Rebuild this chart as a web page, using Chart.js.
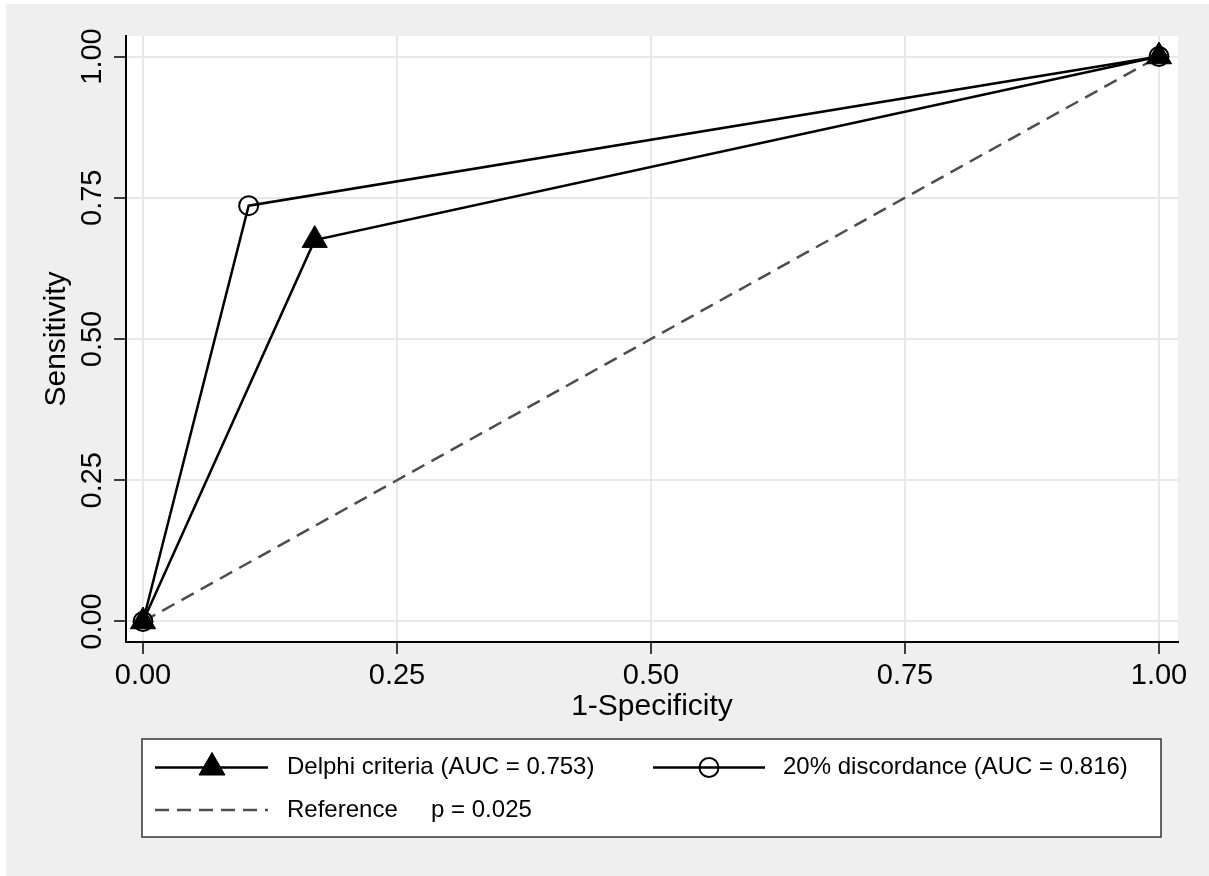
<!DOCTYPE html>
<html>
<head>
<meta charset="utf-8">
<title>ROC curves</title>
<script src="https://cdn.jsdelivr.net/npm/chart.js"></script>
<style>
  html, body { margin: 0; padding: 0; background: #fff; }
  #wrap { width: 1209px; height: 876px; }
</style>
</head>
<body>
<div id="wrap"><canvas id="rocChart" width="1209" height="876"></canvas></div>
<script>
// data
const delphiX = [0, 0.169, 1];
const delphiY = [0, 0.675, 1];
const discordX = [0, 0.104, 1];
const discordY = [0, 0.736, 1];
const refX = [0, 1];
const refY = [0, 1];

const tickValues = [0, 0.25, 0.5, 0.75, 1];
const tickLabels = ["0.00", "0.25", "0.50", "0.75", "1.00"];

const seriesNames = [
  "Delphi criteria (AUC = 0.753)",
  "20% discordance (AUC = 0.816)",
  "Reference     p = 0.025",
];

const FONT = "'Liberation Sans', Arial, sans-serif";

function toPoints(xs, ys) {
  return xs.map((x, i) => ({ x: x, y: ys[i] }));
}

function fixedTicks(scale) {
  scale.ticks = tickValues.map((v) => ({ value: v }));
}

function tickLabel(value) {
  const i = tickValues.indexOf(value);
  return i >= 0 ? tickLabels[i] : "";
}

// gray page, white plot region
const backgroundPlugin = {
  id: "stataBackground",
  beforeDraw(chart) {
    const ctx = chart.ctx;
    const a = chart.chartArea;
    ctx.save();
    ctx.fillStyle = "#ffffff";
    ctx.fillRect(0, 0, chart.width, chart.height);
    ctx.fillStyle = "#efefef";
    ctx.fillRect(6, 4, chart.width - 6, chart.height - 4);
    ctx.fillStyle = "#ffffff";
    ctx.fillRect(a.left, a.top, a.right - a.left, a.bottom - a.top);
    ctx.restore();
  },
};

// vertical y tick labels, like stata
const yLabelsPlugin = {
  id: "yLabels",
  afterDraw(chart) {
    const ctx = chart.ctx;
    const s = chart.scales.y;
    ctx.save();
    ctx.fillStyle = "#000";
    ctx.font = "29px " + FONT;
    ctx.textAlign = "center";
    ctx.textBaseline = "alphabetic";
    s.ticks.forEach((t) => {
      const y = s.getPixelForValue(t.value);
      ctx.save();
      ctx.translate(101, y);
      ctx.rotate(-Math.PI / 2);
      ctx.fillText(tickLabel(t.value), 0, 0);
      ctx.restore();
    });
    ctx.restore();
  },
};

function marker(ctx, style, radius, bw, fill, x, y) {
  if (Chart.helpers && Chart.helpers.drawPoint) {
    ctx.fillStyle = fill;
    ctx.strokeStyle = "#000";
    ctx.lineWidth = bw;
    Chart.helpers.drawPoint(ctx, { pointStyle: style, radius: radius, borderWidth: bw }, x, y);
  }
}

// boxed legend below the plot
const legendPlugin = {
  id: "boxLegend",
  afterDraw(chart) {
    const ctx = chart.ctx;
    ctx.save();
    ctx.fillStyle = "#fff";
    ctx.fillRect(142, 739, 1019, 98);
    ctx.strokeStyle = "#333";
    ctx.lineWidth = 1.5;
    ctx.strokeRect(142, 739, 1019, 98);

    const row1 = 767.5;
    const row2 = 810;

    ctx.strokeStyle = "#000";
    ctx.lineWidth = 2.5;
    ctx.beginPath();
    ctx.moveTo(155, row1);
    ctx.lineTo(268, row1);
    ctx.moveTo(653, row1);
    ctx.lineTo(765, row1);
    ctx.stroke();
    marker(ctx, "triangle", 15, 1, "#000", 212, row1);
    marker(ctx, "circle", 9.5, 2, "rgba(0,0,0,0)", 709, row1);

    ctx.strokeStyle = "#4d4d4d";
    ctx.lineWidth = 2.5;
    ctx.setLineDash([14, 8]);
    ctx.beginPath();
    ctx.moveTo(155, row2);
    ctx.lineTo(268, row2);
    ctx.stroke();
    ctx.setLineDash([]);

    ctx.fillStyle = "#000";
    ctx.font = "24px " + FONT;
    ctx.textAlign = "left";
    ctx.textBaseline = "middle";
    ctx.fillText(seriesNames[0], 287, row1);
    ctx.fillText(seriesNames[1], 783, row1);
    ctx.fillText(seriesNames[2], 287, row2);
    ctx.restore();
  },
};

const ctx = document.getElementById("rocChart");
new Chart(ctx, {
  type: "line",
  data: {
    datasets: [
      {
        label: seriesNames[2],
        data: toPoints(refX, refY),
        borderColor: "#4d4d4d",
        borderWidth: 2.5,
        borderDash: [14, 8],
        pointRadius: 0,
        fill: false,
        order: 3,
      },
      {
        label: seriesNames[0],
        data: toPoints(delphiX, delphiY),
        borderColor: "#000",
        borderWidth: 2.5,
        pointStyle: "triangle",
        pointRadius: 14.5,
        pointBorderWidth: 1,
        pointBackgroundColor: "#000",
        pointBorderColor: "#000",
        fill: false,
        order: 2,
      },
      {
        label: seriesNames[1],
        data: toPoints(discordX, discordY),
        borderColor: "#000",
        borderWidth: 2.5,
        pointStyle: "circle",
        pointRadius: 9.5,
        pointBorderWidth: 2,
        pointBackgroundColor: "rgba(0,0,0,0)",
        pointBorderColor: "#000",
        fill: false,
        order: 1,
      },
    ],
  },
  options: {
    responsive: false,
    animation: false,
    clip: false,
    layout: {
      padding: { left: 0, top: 36, right: 31, bottom: 144 },
    },
    elements: { line: { tension: 0 } },
    scales: {
      x: {
        type: "linear",
        position: "bottom",
        min: -0.01673,
        max: 1.0187,
        afterBuildTicks: fixedTicks,
        afterFit(scale) {
          scale.height = 90;
        },
        border: { color: "#000", width: 2 },
        grid: {
          color: "#e8e8e8",
          lineWidth: 2,
          tickColor: "#000",
          tickLength: 12,
          tickWidth: 1.5,
        },
        ticks: {
          color: "#000",
          font: { family: FONT, size: 29 },
          padding: 5,
          maxRotation: 0,
          callback: (v) => tickLabel(v),
        },
        title: {
          display: true,
          text: "1-Specificity",
          color: "#000",
          font: { family: FONT, size: 30 },
          padding: { top: 0, bottom: 7 },
        },
      },
      y: {
        type: "linear",
        position: "left",
        min: -0.0363,
        max: 1.0363,
        afterBuildTicks: fixedTicks,
        afterFit(scale) {
          scale.width = 126;
        },
        border: { color: "#000", width: 2 },
        grid: {
          color: "#e8e8e8",
          lineWidth: 2,
          tickColor: "#000",
          tickLength: 12,
          tickWidth: 1.5,
        },
        ticks: { display: false },
        title: {
          display: true,
          text: "Sensitivity",
          color: "#000",
          font: { family: FONT, size: 30 },
          padding: { top: 39, bottom: 0 },
        },
      },
    },
    plugins: {
      legend: { display: false },
      tooltip: { enabled: false },
    },
  },
  plugins: [backgroundPlugin, yLabelsPlugin, legendPlugin],
});
</script>
</body>
</html>
